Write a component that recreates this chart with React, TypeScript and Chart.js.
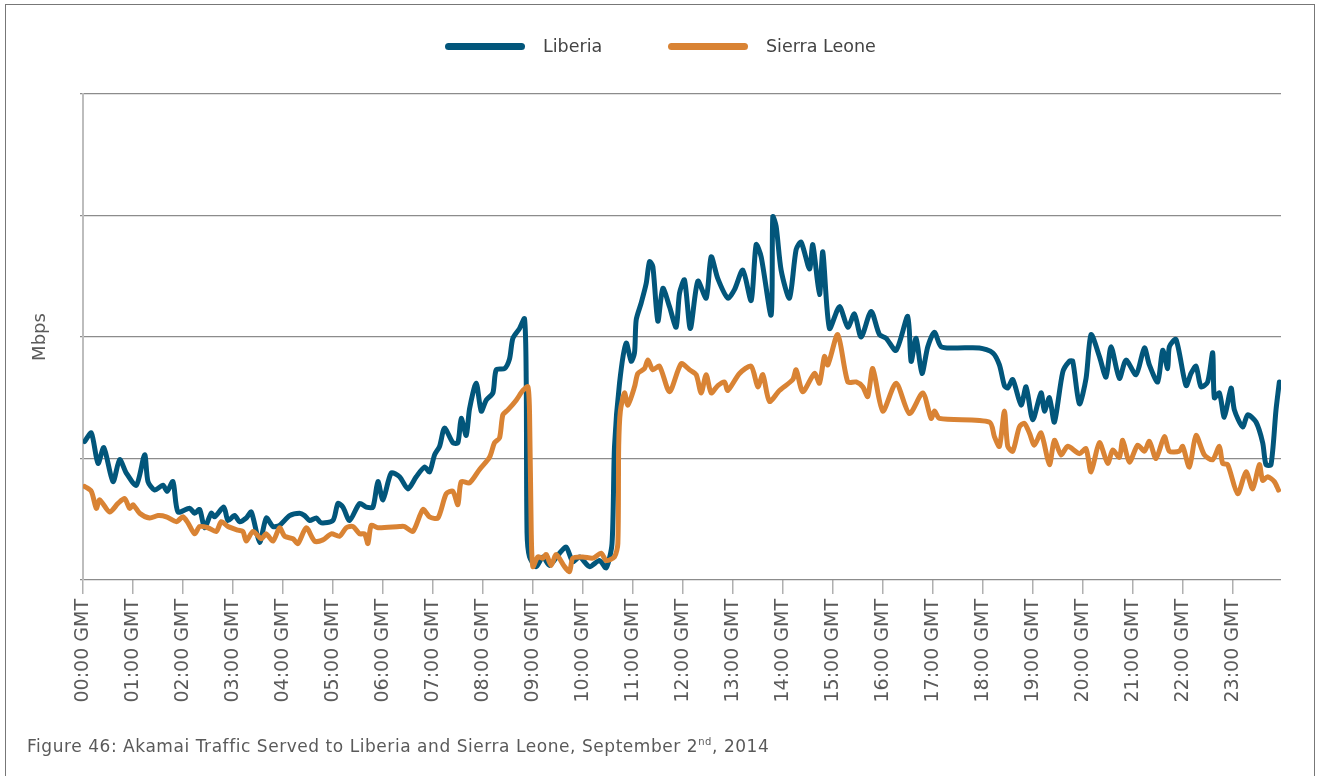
import React, { useEffect, useRef } from "react";
import { Chart, registerables } from "chart.js";

Chart.register(...registerables);

const hourLabels = [
  "00:00 GMT", "01:00 GMT", "02:00 GMT", "03:00 GMT", "04:00 GMT", "05:00 GMT",
  "06:00 GMT", "07:00 GMT", "08:00 GMT", "09:00 GMT", "10:00 GMT", "11:00 GMT",
  "12:00 GMT", "13:00 GMT", "14:00 GMT", "15:00 GMT", "16:00 GMT", "17:00 GMT",
  "18:00 GMT", "19:00 GMT", "20:00 GMT", "21:00 GMT", "22:00 GMT", "23:00 GMT",
];

// minutes after 00:00 GMT
const liberiaMinutes = [
  2, 10, 18, 25, 36, 44, 52, 64, 74, 78, 86, 96, 101, 108, 114, 128, 134, 140, 146, 154,
  158, 169, 174, 182, 188, 196, 202, 212, 220, 228, 236, 248, 260, 266, 272, 280, 286, 300, 306, 312,
  320, 332, 340, 348, 354, 360, 370, 380, 390, 400, 410, 416, 422, 428, 434, 444, 450, 454, 460, 464,
  472, 478, 484, 492, 496, 506, 512, 516, 524, 530, 532, 533, 536, 544, 552, 560, 572, 580, 588, 596,
  608, 620, 628, 635, 638, 644, 652, 658, 662, 664, 670, 676, 680, 684, 690, 696, 704, 712, 716, 722,
  729, 738, 748, 754, 762, 774, 782, 792, 802, 808, 814, 826, 828, 832, 838, 848, 856, 862, 872, 876,
  884, 888, 896, 908, 918, 926, 934, 946, 956, 964, 976, 990, 994, 1000, 1007, 1014, 1022, 1030, 1048, 1076,
  1092, 1100, 1106, 1110, 1116, 1126, 1132, 1140, 1150, 1154, 1160, 1166, 1176, 1184, 1188, 1196, 1204, 1210, 1220, 1228,
  1234, 1244, 1252, 1264, 1274, 1280, 1290, 1296, 1302, 1304, 1312, 1324, 1330, 1336, 1342, 1350, 1356, 1358, 1364, 1370,
  1378, 1382, 1392, 1398, 1408, 1416, 1420, 1426, 1432, 1436,
];
const liberiaMbps = [
  1.14, 1.21, 0.96, 1.09, 0.81, 0.99, 0.88, 0.78, 1.03, 0.81, 0.74, 0.78, 0.73, 0.81, 0.56, 0.59, 0.55, 0.58, 0.43, 0.55,
  0.52, 0.6, 0.49, 0.53, 0.48, 0.51, 0.56, 0.31, 0.51, 0.44, 0.45, 0.53, 0.55, 0.53, 0.49, 0.51, 0.47, 0.49, 0.63, 0.6,
  0.49, 0.63, 0.6, 0.6, 0.81, 0.66, 0.88, 0.85, 0.75, 0.85, 0.93, 0.89, 1.03, 1.1, 1.25, 1.13, 1.13, 1.33, 1.19, 1.41,
  1.62, 1.39, 1.48, 1.54, 1.73, 1.74, 1.82, 1.99, 2.07, 2.15, 1.65, 0.39, 0.19, 0.11, 0.19, 0.12, 0.22, 0.27, 0.15, 0.19,
  0.11, 0.16, 0.1, 0.3, 1.1, 1.62, 1.95, 1.8, 1.87, 2.14, 2.28, 2.44, 2.62, 2.58, 2.13, 2.4, 2.25, 2.08, 2.36, 2.47,
  2.07, 2.46, 2.32, 2.66, 2.48, 2.32, 2.39, 2.55, 2.3, 2.76, 2.66, 2.18, 2.99, 2.91, 2.55, 2.32, 2.72, 2.78, 2.56, 2.76,
  2.35, 2.7, 2.07, 2.25, 2.08, 2.19, 2.0, 2.21, 2.02, 1.99, 1.89, 2.17, 1.8, 1.99, 1.7, 1.92, 2.04, 1.92, 1.91, 1.91,
  1.87, 1.77, 1.6, 1.58, 1.65, 1.44, 1.59, 1.32, 1.54, 1.39, 1.5, 1.3, 1.71, 1.8, 1.8, 1.45, 1.66, 2.02, 1.84, 1.67,
  1.92, 1.66, 1.81, 1.69, 1.91, 1.77, 1.63, 1.89, 1.74, 1.92, 1.98, 1.6, 1.7, 1.76, 1.59, 1.63, 1.87, 1.5, 1.54, 1.34,
  1.58, 1.4, 1.26, 1.36, 1.3, 1.13, 0.95, 0.95, 1.4, 1.63,
];

const sierraMinutes = [
  2, 10, 16, 20, 32, 42, 50, 56, 60, 68, 80, 90, 100, 112, 120, 126, 134, 140, 150, 160,
  166, 174, 186, 192, 196, 204, 214, 220, 228, 236, 242, 252, 258, 268, 278, 288, 298, 308, 316, 324,
  332, 338, 342, 346, 354, 380, 386, 396, 408, 416, 426, 436, 444, 450, 454, 464, 476, 488, 494, 500,
  504, 510, 520, 528, 534, 536, 538, 540, 546, 552, 556, 562, 568, 578, 584, 588, 600, 612, 622, 628,
  638, 642, 643, 645, 650, 654, 662, 666, 674, 678, 684, 692, 704, 718, 728, 736, 742, 748, 754, 762,
  770, 774, 788, 802, 810, 816, 824, 836, 852, 856, 864, 878, 884, 890, 894, 906, 918, 928, 936, 942,
  948, 960, 976, 992, 1008, 1018, 1022, 1028, 1088, 1094, 1100, 1106, 1110, 1116, 1124, 1130, 1136, 1142, 1150, 1160,
  1166, 1174, 1182, 1196, 1204, 1210, 1220, 1230, 1236, 1244, 1248, 1256, 1266, 1274, 1280, 1288, 1298, 1304, 1316, 1320,
  1328, 1336, 1346, 1356, 1364, 1368, 1374, 1386, 1396, 1404, 1412, 1416, 1422, 1430, 1435,
];
const sierraMbps = [
  0.77, 0.73, 0.59, 0.66, 0.56, 0.63, 0.67, 0.59, 0.62, 0.55, 0.51, 0.53, 0.52, 0.48, 0.52, 0.47, 0.38, 0.44, 0.43, 0.4,
  0.48, 0.44, 0.41, 0.4, 0.32, 0.4, 0.34, 0.38, 0.32, 0.43, 0.36, 0.34, 0.3, 0.43, 0.32, 0.33, 0.38, 0.36, 0.43, 0.44,
  0.38, 0.38, 0.3, 0.45, 0.43, 0.44, 0.44, 0.4, 0.58, 0.52, 0.51, 0.71, 0.73, 0.62, 0.81, 0.8, 0.91, 1.01, 1.13, 1.17,
  1.36, 1.4, 1.48, 1.56, 1.59, 1.37, 0.41, 0.11, 0.19, 0.18, 0.21, 0.12, 0.21, 0.11, 0.07, 0.18, 0.19, 0.18, 0.22, 0.16,
  0.19, 0.3, 1.1, 1.39, 1.54, 1.44, 1.59, 1.7, 1.74, 1.81, 1.73, 1.76, 1.55, 1.78, 1.73, 1.69, 1.54, 1.69, 1.54, 1.6,
  1.63, 1.56, 1.7, 1.76, 1.59, 1.69, 1.47, 1.56, 1.65, 1.73, 1.55, 1.7, 1.62, 1.84, 1.77, 2.02, 1.63, 1.63, 1.59, 1.51,
  1.74, 1.39, 1.62, 1.37, 1.54, 1.33, 1.39, 1.33, 1.3, 1.18, 1.1, 1.39, 1.1, 1.06, 1.26, 1.29, 1.21, 1.11, 1.21, 0.95,
  1.15, 1.03, 1.1, 1.04, 1.08, 0.89, 1.13, 0.96, 1.07, 1.01, 1.15, 0.97, 1.11, 1.06, 1.14, 1.0, 1.18, 1.06, 1.06, 1.1,
  0.93, 1.19, 1.03, 0.99, 1.1, 0.96, 0.95, 0.71, 0.89, 0.75, 0.95, 0.82, 0.85, 0.81, 0.74,
];

const BLUE = "#02567b";
const ORANGE = "#d98334";
const TEXT = "#5a5a5a";
const FONT = "'DejaVu Sans', 'Open Sans', sans-serif";

export default function App() {
  const ref = useRef<HTMLCanvasElement>(null);

  useEffect(() => {
    document.body.style.margin = "0";
    document.body.style.overflow = "hidden";
    const chart = new Chart(ref.current!, {
      type: "line",
      data: {
        datasets: [
          {
            label: "Liberia",
            data: liberiaMinutes.map((m, i) => ({ x: m, y: liberiaMbps[i] })),
            borderColor: BLUE,
            backgroundColor: BLUE,
            borderWidth: 5,
            pointRadius: 0,
            tension: 0.25,
            borderCapStyle: "round",
            borderJoinStyle: "round",
            order: 1,
          },
          {
            label: "Sierra Leone",
            data: sierraMinutes.map((m, i) => ({ x: m, y: sierraMbps[i] })),
            borderColor: ORANGE,
            backgroundColor: ORANGE,
            borderWidth: 5,
            pointRadius: 0,
            tension: 0.25,
            borderCapStyle: "round",
            borderJoinStyle: "round",
            order: 0,
          },
        ],
      },
      options: {
        animation: false,
        responsive: false,
        maintainAspectRatio: false,
        layout: { padding: { top: 94, right: 36, left: 0, bottom: 0 } },
        plugins: { legend: { display: false }, tooltip: { enabled: false } },
        scales: {
          x: {
            type: "linear",
            min: 0,
            max: 1438,
            afterBuildTicks: (axis: any) => {
              axis.ticks = hourLabels.map((_, i) => ({ value: i * 60 }));
            },
            ticks: {
              callback: (v: any) => hourLabels[Math.round(Number(v) / 60)] ?? "",
              maxRotation: 90,
              minRotation: 90,
              autoSkip: false,
              padding: 5,
              color: TEXT,
              font: { family: FONT, size: 19 },
            },
            grid: {
              drawOnChartArea: false,
              drawTicks: true,
              tickLength: 14,
              color: "#b0b0b0",
              lineWidth: 1.5,
            },
            border: { display: false },
            afterFit: (a: any) => {
              a.height = 196;
            },
          },
          y: {
            min: 0,
            max: 4,
            ticks: { stepSize: 1, display: false },
            grid: { color: "#8c8c8c", lineWidth: 1.3, tickLength: 3 },
            border: { display: true, color: "#bdbdbd", width: 2 },
            title: {
              display: true,
              text: "Mbps",
              color: TEXT,
              font: { family: FONT, size: 18 },
              padding: { top: 30, bottom: 0 },
            },
            afterFit: (a: any) => {
              a.width = 83;
            },
          },
        },
      },
    });
    return () => chart.destroy();
  }, []);

  const legendItem = (color: string, label: string, left: number) => (
    <div style={{ position: "absolute", left, top: 34, display: "flex", alignItems: "center", height: 24 }}>
      <div style={{ width: 80, height: 7, borderRadius: 4, background: color }} />
      <span style={{ marginLeft: 18, fontFamily: FONT, fontSize: 17.5, color: "#444" }}>{label}</span>
    </div>
  );

  return (
    <div style={{ position: "relative", width: 1317, height: 776, background: "#fff", overflow: "hidden" }}>
      <div
        style={{
          position: "absolute",
          left: 5,
          top: 4,
          width: 1310,
          height: 820,
          border: "1.5px solid #777",
          boxSizing: "border-box",
        }}
      />
      <canvas ref={ref} width={1317} height={776} style={{ position: "absolute", left: 0, top: 0 }} />
      {legendItem(BLUE, "Liberia", 445)}
      {legendItem(ORANGE, "Sierra Leone", 668)}
      <div
        style={{
          position: "absolute",
          left: 27,
          top: 736,
          fontFamily: FONT,
          fontSize: 17,
          letterSpacing: 0.55,
          color: TEXT,
          whiteSpace: "nowrap",
        }}
      >
        Figure 46: Akamai Traffic Served to Liberia and Sierra Leone, September 2<sup style={{ fontSize: 10 }}>nd</sup>, 2014
      </div>
    </div>
  );
}
